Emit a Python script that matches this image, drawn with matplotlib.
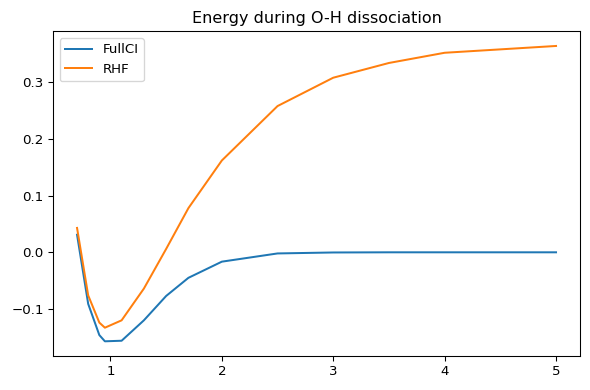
"""Energy curve for O-H bond stretching: FullCI vs RHF."""

import matplotlib
matplotlib.use("Agg")
import matplotlib.pyplot as plt

# bond length (Angstrom) and relative energies (Hartree)
bond_fci = [0.7, 0.8, 0.9, 0.95, 1.1, 1.3, 1.5, 1.7, 2.0, 2.5, 3.0, 3.5, 4.0, 4.5, 5.0]
e_fci = [0.031, -0.091, -0.146, -0.157, -0.156, -0.120, -0.077, -0.045,
         -0.0165, -0.002, -0.0003, 0.0, 0.0, 0.0, 0.0]

bond_rhf = [0.7, 0.8, 0.9, 0.95, 1.1, 1.3, 1.5, 1.7, 2.0, 2.5, 3.0, 3.5, 4.0, 4.5, 5.0]
e_rhf = [0.043, -0.076, -0.124, -0.133, -0.120, -0.064, 0.006, 0.078,
         0.162, 0.258, 0.308, 0.334, 0.352, 0.358, 0.364]

dpi = 96
fig, ax = plt.subplots(figsize=(590 / dpi, 390 / dpi), dpi=dpi)
ax.plot(bond_fci, e_fci, label="FullCI")
ax.plot(bond_rhf, e_rhf, label="RHF")
ax.set_title("Energy during O-H dissociation")
ax.legend(loc="upper left")
fig.subplots_adjust(left=0.090, right=0.983, top=0.920, bottom=0.087)
fig.savefig("out.png")
